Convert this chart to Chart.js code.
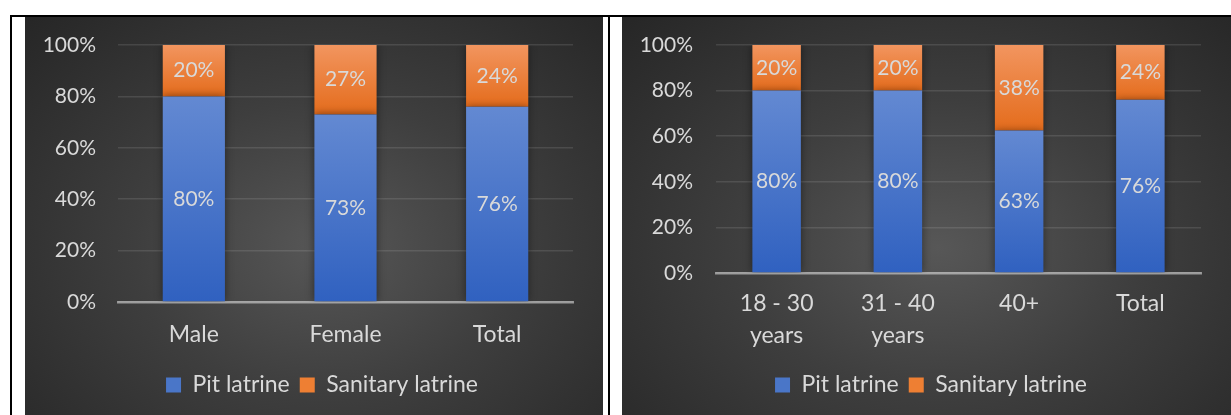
<!DOCTYPE html>
<html>
<head>
<meta charset="utf-8">
<script src="https://cdn.jsdelivr.net/npm/chart.js@4.4.0/dist/chart.umd.min.js"></script>
<style>
body { margin: 0; background: #fff; width: 1231px; height: 415px; overflow: hidden; position: relative; }
.rule { position: absolute; background: #000; }
.panel { position: absolute; top: 17px; height: 398px;
  background: radial-gradient(ellipse farthest-corner at 52% 58%, #575757 0%, #3e3e3e 45%, #262626 100%); }
.panel canvas { position: absolute; left: 0; top: 0; }
</style>
</head>
<body>
<div class="rule" style="left:10px;top:15px;width:1221px;height:2px"></div>
<div class="rule" style="left:10px;top:15px;width:2px;height:400px"></div>
<div class="rule" style="left:608px;top:15px;width:2px;height:400px"></div>
<div class="panel" style="left:25px;width:578px"><canvas id="genderChart" width="578" height="398"></canvas></div>
<div class="panel" style="left:622px;width:609px"><canvas id="ageChart" width="609" height="398"></canvas></div>
<script>
// data (percent of respondents)
var seriesNames = ['Pit latrine', 'Sanitary latrine'];

var genderLabels = ['Male', 'Female', 'Total'];
var genderPit = [80, 73, 76];
var genderSanitary = [20, 27, 24];

var ageLabels = [['18 - 30', 'years'], ['31 - 40', 'years'], '40+', 'Total'];
var agePit = [80, 80, 62.5, 76];
var ageSanitary = [20, 20, 37.5, 24];

var yTicks = [0, 20, 40, 60, 80, 100];

Chart.defaults.font.family = 'Lato, "Open Sans", sans-serif';
Chart.defaults.font.size = 21;
Chart.defaults.color = '#d9d9d9';

var blueStops = ['#6389d2', '#3061c0'];
var orangeStops = ['#f2955f', '#e46c1c'];
var legendColors = ['#4a76c8', '#ee7f33'];

// vertical gradient for one bar segment, between two values on the y scale
var segmentFill = function(stops, lowVals, highVals) {
	return function(c) {
		var chart = c.chart;
		var y = chart.scales.y;
		if (!y || c.dataIndex === undefined) {
			return stops[1];
		}
		var i = c.dataIndex;
		var top = y.getPixelForValue(highVals(i));
		var bottom = y.getPixelForValue(lowVals(i));
		if (!isFinite(top) || !isFinite(bottom) || top === bottom) {
			return stops[1];
		}
		var g = chart.ctx.createLinearGradient(0, top, 0, bottom);
		g.addColorStop(0, stops[0]);
		g.addColorStop(1, stops[1]);
		return g;
	};
};

// bar shadow + value labels in the middle of each segment, legend nudge
var segmentLabels = {
	id: 'segmentLabels',
	afterLayout: function(chart, args, opts) {
		if (chart.legend && opts.legendShift) {
			chart.legend.left += opts.legendShift;
			chart.legend.right += opts.legendShift;
		}
	},
	beforeDatasetsDraw: function(chart) {
		var ctx = chart.ctx;
		ctx.save();
		ctx.shadowColor = 'rgba(0, 0, 0, 0.45)';
		ctx.shadowBlur = 8;
		ctx.shadowOffsetX = 0;
		ctx.shadowOffsetY = 0;
	},
	afterDatasetsDraw: function(chart) {
		var ctx = chart.ctx;
		ctx.restore();
		ctx.save();
		ctx.font = '21px Lato, "Open Sans", sans-serif';
		ctx.fillStyle = '#d9d9d9';
		ctx.textAlign = 'center';
		ctx.textBaseline = 'middle';
		chart.data.datasets.forEach(function(ds, di) {
			chart.getDatasetMeta(di).data.forEach(function(bar, i) {
				var p = bar.getProps(['x', 'y', 'base'], true);
				ctx.fillText(Math.round(ds.data[i]) + '%', p.x, (p.y + p.base) / 2);
			});
		});
		ctx.restore();
	}
};

var buildChart = function(canvasId, labels, pit, sanitary, opts) {
	var data = {
		labels: labels,
		datasets: [
			{
				label: seriesNames[0],
				data: pit,
				backgroundColor: segmentFill(blueStops, function() { return 0; }, function(i) { return pit[i]; }),
				barPercentage: opts.barPct,
				categoryPercentage: 1
			},
			{
				label: seriesNames[1],
				data: sanitary,
				backgroundColor: segmentFill(orangeStops, function(i) { return pit[i]; }, function(i) { return pit[i] + sanitary[i]; }),
				barPercentage: opts.barPct,
				categoryPercentage: 1
			}
		]
	};
	return new Chart(document.getElementById(canvasId), {
		type: 'bar',
		data: data,
		plugins: [segmentLabels],
		options: {
			responsive: false,
			animation: false,
			devicePixelRatio: 1,
			layout: { padding: { top: 28, right: 30, bottom: 8.5, left: 0 } },
			plugins: {
				tooltip: { enabled: false },
				segmentLabels: { legendShift: opts.legendShift },
				legend: {
					position: 'bottom',
					labels: {
						boxWidth: 15,
						boxHeight: 15,
						padding: 10,
						color: '#d9d9d9',
						font: { size: 23 },
						generateLabels: function() {
							return seriesNames.map(function(name, i) {
								return { text: name, fillStyle: legendColors[i], strokeStyle: legendColors[i], lineWidth: 0, fontColor: '#d9d9d9', datasetIndex: i };
							});
						}
					}
				}
			},
			scales: {
				x: {
					stacked: true,
					z: 1,
					grid: { display: false },
					border: { display: true, color: 'rgba(215, 215, 215, 0.6)', width: 2.5 },
					ticks: { color: '#d9d9d9', padding: opts.xPad, maxRotation: 0, autoSkip: false, font: { size: 23, lineHeight: 1.4 } },
					afterFit: function(scale) { scale.height = opts.xHeight; }
				},
				y: {
					stacked: true,
					min: 0,
					max: 100,
					afterBuildTicks: function(scale) {
						scale.ticks = yTicks.map(function(v) { return { value: v }; });
					},
					grid: { color: 'rgba(255, 255, 255, 0.11)', lineWidth: 1.5, drawTicks: false },
					border: { display: false },
					ticks: {
						color: '#d9d9d9',
						padding: opts.yPad,
						font: { size: 21 },
						callback: function(v) { return v + '%'; }
					},
					afterFit: function(scale) {
						scale.width = opts.yWidth;
						scale.paddingTop = 12;
						scale.paddingBottom = 12;
					}
				}
			}
		}
	});
};

buildChart('genderChart', genderLabels, genderPit, genderSanitary,
	{ barPct: 0.41, legendShift: 23, xPad: 8, xHeight: 61.5, yPad: 22, yWidth: 93 });
buildChart('ageChart', ageLabels, agePit, ageSanitary,
	{ barPct: 0.40, legendShift: 19.5, xPad: 6, xHeight: 90.5, yPad: 23, yWidth: 94 });
</script>
</body>
</html>
